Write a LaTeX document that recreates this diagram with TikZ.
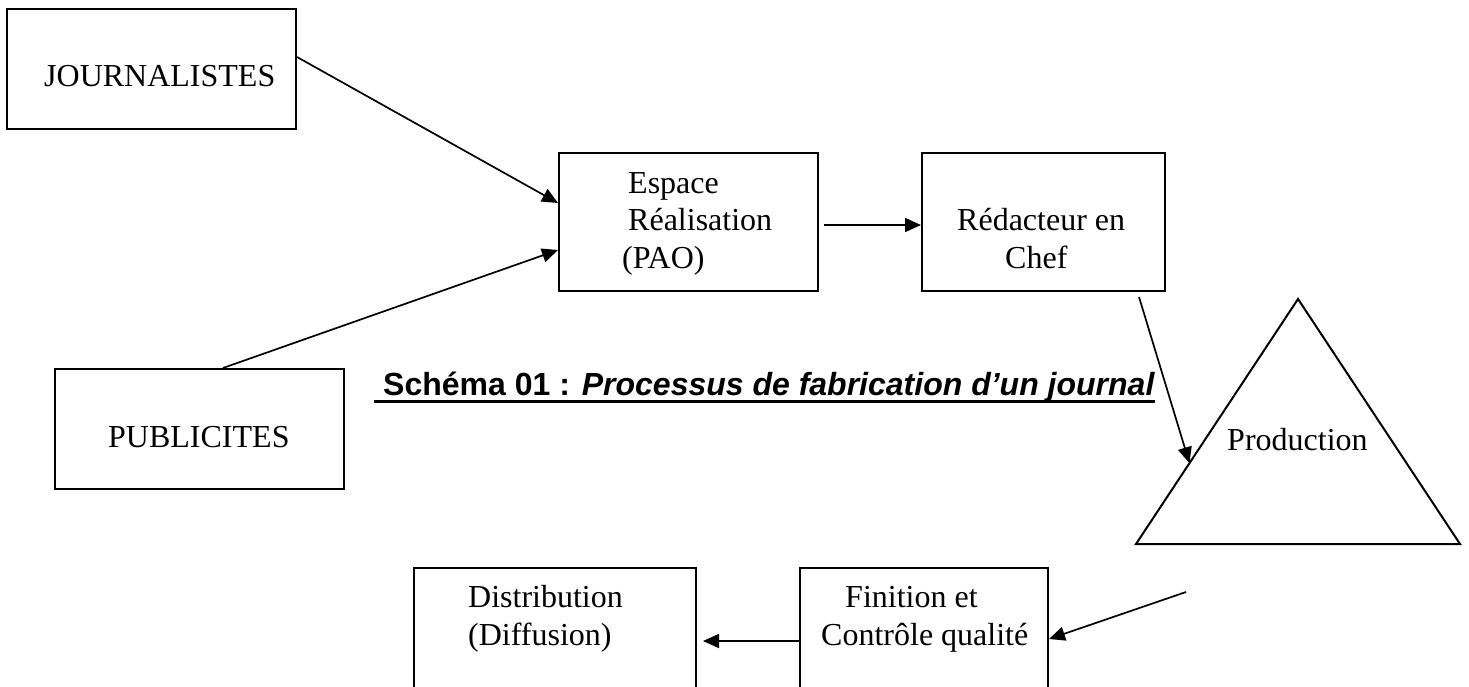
\documentclass[tikz,border=0pt]{standalone}
\usepackage{fontspec}
\setmainfont{Liberation Serif}
\setsansfont{Liberation Sans}
\usepackage{tikz}
\usetikzlibrary{arrows.meta,positioning,calc}

\begin{document}
\begin{tikzpicture}[x=1pt,y=-1pt]
  \tikzstyle{box}=[draw,line width=2pt,inner sep=0pt,minimum height=138pt]
  \tikzstyle{lbl}=[inner sep=0pt,anchor=base west,align=left,font=\fontsize{32}{37.5}\selectfont]
  \tikzstyle{arr}=[-{Triangle[length=16pt,width=14pt]},line width=1.7pt]
  \useasboundingbox (0,0) rectangle (1469,687);
  \clip (0,0) rectangle (1469,687);

  % boxes
  \node[box,minimum width=289pt,minimum height=120pt] (journ) at (151.5,69) {};
  \node[box,minimum width=289pt,minimum height=120pt] (pub)   at (199.5,429) {};
  \node[box,minimum width=259pt] (espace) at (688.5,222) {};
  \node[box,minimum width=243pt] (redac) [right=102pt of espace] {};
  \node[box,minimum width=248pt] (finition) at (924,637) {};
  \node[box,minimum width=282pt] (distrib) [left=102pt of finition] {};

  % triangle
  \coordinate (apex) at (1298,299);
  \coordinate (bl)   at (1136,544);
  \coordinate (br)   at (1460,544);
  \draw[line width=2pt] (apex) -- (bl) -- (br) -- cycle;
  \coordinate (prodin)  at ($(apex)!0.67!(bl)$);
  \coordinate (prodout) at (1186,592);

  % texts (multi-line nodes sit on their last baseline)
  \node[lbl] (journ-t)    at (44,87)   {JOURNALISTES};
  \node[lbl] (pub-t)      at (108,447) {PUBLICITES};
  \node[lbl] (espace-t)   at (628,268) {Espace\\Réalisation\\\hspace*{-6pt}(PAO)};
  \node[lbl] (redac-t)    at (957,268) {Rédacteur en\\\hspace*{48pt}Chef};
  \node[lbl] (prod-t)     at (1227,450) {Production};
  \node[lbl] (distrib-t)  at (468,645) {Distribution\\(Diffusion)};
  \node[lbl] (finition-t) at (821,645) {\hspace*{24pt}Finition et\\Contrôle qualité};

  % title
  \node[inner sep=0pt,anchor=base west,font=\sffamily\bfseries\fontsize{32}{38}\selectfont]
    (titre) at (383,395) {Schéma 01 : \textit{Processus de fabrication d’un journal}};
  \draw[line width=3pt] ([xshift=-9pt,yshift=-6pt]titre.base west) -- ([yshift=-6pt]titre.base east);

  % connectors
  \draw[arr] ([yshift=12pt]journ.east) -- ([yshift=19pt]espace.west);
  \draw[arr] ([xshift=23.5pt]pub.north) -- ([yshift=-28pt]espace.west);
  \draw[arr] ([xshift=5pt,yshift=-3pt]espace.east) -- ([yshift=-3pt]redac.west);
  \draw[arr] ([xshift=-27pt,yshift=-5pt]redac.south east) -- (prodin);
  \draw[arr] (prodout) -- ([yshift=-2pt]finition.east);
  \draw[arr] ([yshift=-4pt]finition.west) -- ([xshift=6pt,yshift=-4pt]distrib.east);
\end{tikzpicture}
\end{document}
